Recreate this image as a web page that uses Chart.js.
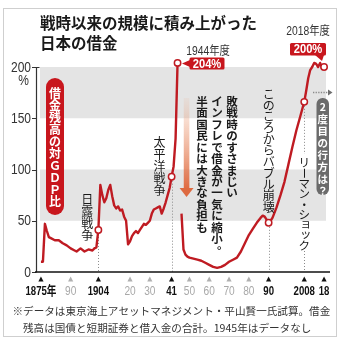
<!DOCTYPE html>
<html>
<head>
<meta charset="utf-8">
<script src="https://cdn.jsdelivr.net/npm/chart.js@4/dist/chart.umd.min.js"></script>
<style>
  html, body { margin: 0; padding: 0; background: #fff; }
  canvas { display: block; }
</style>
</head>
<body>
<canvas id="debtChart" width="344" height="341"></canvas>
<script>
// ================================================================
// Data
// ================================================================
const years = [1875, 1876, 1877, 1878, 1879, 1880, 1882, 1884, 1886, 1888, 1890, 1892, 1893, 1895, 1897, 1899, 1901, 1902, 1903,
  1904, 1905, 1906, 1907, 1908, 1909, 1910, 1911, 1912, 1913, 1914, 1915, 1916, 1917, 1918, 1919, 1920, 1921, 1922, 1923, 1924,
  1925, 1926, 1927, 1928, 1929, 1930, 1931, 1932, 1933, 1934, 1935, 1936, 1937, 1938, 1939, 1940, 1941, 1942, 1943, 1944, 1945,
  1946, 1947, 1948, 1949, 1950, 1952, 1954, 1956, 1958, 1960, 1962, 1964, 1966, 1968, 1970, 1972, 1974, 1976, 1978, 1980,
  1982, 1984, 1986, 1987, 1988, 1989, 1990, 1991, 1992, 1994, 1996, 1998, 2000, 2002, 2004, 2006, 2007, 2008, 2009, 2010,
  2011, 2012, 2013, 2014, 2015, 2016, 2017, 2018];
// debt / GDP in %, 1945 has no data
const debtRatio = [10, 10, 47, 40, 34, 33, 31, 31, 28, 26, 23, 21, 20, 23, 20, 22, 21, 23, 24,
  41, 85, 75, 68, 72, 80, 85, 74, 65, 62, 64, 60, 61, 54, 50, 27, 30, 35, 38, 40, 38,
  41, 44, 47, 46, 48, 50, 57, 61, 62, 63, 64, 57, 62, 68, 75, 82, 93, 103, 130, 204, null,
  57, 22, 17, 15, 14, 13, 12, 11, 9, 7, 5, 4, 5, 7, 10, 12, 14, 20, 28, 36,
  42, 48, 53, 55, 54, 51, 48, 50, 53, 63, 75, 88, 105, 122, 138, 152, 159, 166, 177, 189,
  197, 200, 204, 203, 200, 204, 199, 200];

const markerYears = [1904, 1941, 1944, 1990, 2008, 2018];
const guideYears = [1904, 1941, 1990, 2008];

const yTicks = [0, 50, 100, 150, 200];
const bandRanges = [[50, 100], [150, 200]];

const tickYears = [1875, 1890, 1904, 1920, 1930, 1941, 1950, 1960, 1970, 1980, 1990, 2008, 2018];
const tickLabels = ['1875年', '90', '1904', '20', '30', '41', '50', '60', '70', '80', '90', '2008', '18'];
const tickStrong = [true, false, true, false, false, true, false, false, false, false, true, true, true];

const titleLines = ['戦時以来の規模に積み上がった', '日本の借金'];
const noteLines = ['※データは東京海上アセットマネジメント・平山賢一氏試算。借金', '残高は国債と短期証券と借入金の合計。1945年はデータなし'];

const RED = '#bf1b22';
const JP = '"Noto Sans CJK JP", sans-serif';
const NUM = '"Liberation Sans", Arial, "Noto Sans CJK JP", sans-serif';

const valueAt = yr => debtRatio[years.indexOf(yr)];

// ================================================================
// Drawing helpers
// ================================================================
function text(ctx, s, x, y, font, color, align, sx) {
  ctx.save();
  ctx.font = font;
  ctx.fillStyle = color;
  ctx.textAlign = align || 'left';
  ctx.textBaseline = 'middle';
  ctx.translate(x, y);
  ctx.scale(sx || 1, 1);
  ctx.fillText(s, 0, 0);
  ctx.restore();
}

// vertical (tategaki) text, one glyph per step
function vtext(ctx, s, x, y0, step, size, weight, color) {
  const small = 'ッョャュァィゥェォっょゃゅ';
  ctx.save();
  ctx.font = weight + ' ' + size + 'px ' + JP;
  ctx.fillStyle = color;
  ctx.textAlign = 'center';
  ctx.textBaseline = 'middle';
  Array.from(s).forEach((c, i) => {
    const cy = y0 + i * step;
    if (c === 'ー') {
      ctx.save();
      ctx.translate(x, cy);
      ctx.rotate(Math.PI / 2);
      ctx.fillText(c, 0, 0);
      ctx.restore();
    } else if (c === '。') {
      ctx.fillText(c, x + size * 0.5, cy - size * 0.5);
    } else if (small.includes(c)) {
      ctx.fillText(c, x + size * 0.12, cy - size * 0.12);
    } else {
      ctx.fillText(c, x, cy);
    }
  });
  ctx.restore();
}

function roundRect(ctx, x, y, w, h, r, fill) {
  ctx.beginPath();
  ctx.roundRect(x, y, w, h, r);
  ctx.fillStyle = fill;
  ctx.fill();
}

// ================================================================
// Decoration plugin: bands, axes, notes, callouts
// ================================================================
const decor = {
  id: 'decor',
  beforeDatasetsDraw(chart) {
    const { ctx, scales: { x, y } } = chart;
    const y0 = y.getPixelForValue(0);
    const yTop = y.getPixelForValue(200);

    ctx.save();
    // frame
    ctx.strokeStyle = '#cfcfcf';
    ctx.lineWidth = 1;
    ctx.strokeRect(3.5, 8.5, 333, 328);

    // grey bands
    ctx.fillStyle = '#e4e4e4';
    bandRanges.forEach(([lo, hi]) => {
      const t = y.getPixelForValue(hi), b = y.getPixelForValue(lo);
      ctx.fillRect(40, t, 286, b - t);
    });

    // y axis
    ctx.strokeStyle = '#333';
    ctx.lineWidth = 1.2;
    ctx.beginPath();
    ctx.moveTo(36.5, yTop);
    ctx.lineTo(36.5, y0);
    yTicks.forEach(v => {
      const py = Math.round(y.getPixelForValue(v)) + 0.5;
      ctx.moveTo(32, py);
      ctx.lineTo(36.5, py);
    });
    ctx.moveTo(36.5, yTop + 0.5);
    ctx.lineTo(39.5, yTop + 0.5);
    ctx.stroke();

    // dotted guides from markers down to the axis
    ctx.strokeStyle = '#8a8a8a';
    ctx.lineWidth = 1;
    ctx.setLineDash([1, 2]);
    guideYears.forEach(yr => {
      const px = Math.round(x.getPixelForValue(yr)) + 0.5;
      const top = y.getPixelForValue(valueAt(yr)) + 4;
      ctx.beginPath();
      if (yr === 2008) {
        ctx.moveTo(px, top); ctx.lineTo(px, 154);
        ctx.moveTo(px, 248); ctx.lineTo(px, y0);
      } else {
        ctx.moveTo(px, top); ctx.lineTo(px, y0);
      }
      ctx.stroke();
    });
    ctx.setLineDash([]);

    // x axis
    ctx.strokeStyle = '#111';
    ctx.lineWidth = 1.5;
    ctx.beginPath();
    ctx.moveTo(35, y0);
    ctx.lineTo(330, y0);
    ctx.stroke();

    // orange "shrink" arrow
    const ax = x.getPixelForValue(1944) + 9;
    const g = ctx.createLinearGradient(0, 98, 0, 190);
    g.addColorStop(0, 'rgba(236,160,120,0.1)');
    g.addColorStop(1, 'rgba(224,104,62,1)');
    ctx.fillStyle = g;
    ctx.fillRect(ax - 2.8, 98, 5.6, 90);
    ctx.fillStyle = '#dd6a40';
    ctx.beginPath();
    ctx.moveTo(ax - 7, 188);
    ctx.lineTo(ax + 7, 188);
    ctx.lineTo(ax, 197);
    ctx.closePath();
    ctx.fill();
    ctx.restore();
  },

  afterDatasetsDraw(chart) {
    const { ctx, scales: { x, y } } = chart;
    const y0 = y.getPixelForValue(0);

    // title
    titleLines.forEach((s, i) => text(ctx, s, 40, 23 + i * 20, 'bold 15.5px ' + JP, '#1a1a1a', 'left'));

    // y labels
    yTicks.forEach(v => text(ctx, String(v), 31, y.getPixelForValue(v) + 0.5, '15px ' + NUM, '#333', 'right', 0.8));
    text(ctx, '%', 29, 81, '15px ' + NUM, '#333', 'right', 0.8);

    // x ticks
    tickYears.forEach((yr, i) => {
      const px = x.getPixelForValue(yr);
      const strong = tickStrong[i];
      ctx.fillStyle = strong ? '#111' : '#b0b0b0';
      ctx.beginPath();
      ctx.moveTo(px - 2.6, 281.5);
      ctx.lineTo(px + 2.6, 281.5);
      ctx.lineTo(px, 276.5);
      ctx.closePath();
      ctx.fill();
      text(ctx, tickLabels[i], px, 291.5, (strong ? 'bold ' : '') + '13px ' + NUM, strong ? '#111' : '#a8a8a8', 'center', strong ? 0.74 : 0.78);
    });

    // red pill label
    roundRect(ctx, 46, 78, 18, 137, 9, '#c8161d');
    vtext(ctx, '借金残高の対ＧＤＰ比', 55, 93, 12, 12, 'bold', '#fff');

    // event labels
    vtext(ctx, '日露戦争', x.getPixelForValue(1904) - 11, 199, 12.2, 12, 'normal', '#1a1a1a');
    vtext(ctx, '太平洋戦争', x.getPixelForValue(1941) - 12, 142, 12.1, 12, 'normal', '#1a1a1a');
    vtext(ctx, 'このころからバブル崩壊', x.getPixelForValue(1990), 94, 11.3, 12, 'normal', '#1a1a1a');
    vtext(ctx, 'リーマン・ショック', x.getPixelForValue(2008), 163, 10.3, 11.5, 'normal', '#1a1a1a');

    // postwar note, three columns right to left
    vtext(ctx, '敗戦時のすさまじい', 232, 101.5, 11.45, 11.5, 'bold', '#1a1a1a');
    vtext(ctx, 'インフレで借金が一気に縮小。', 217, 101.5, 11.45, 11.5, 'bold', '#1a1a1a');
    vtext(ctx, '半面国民には大きな負担も', 202, 101.5, 11.45, 11.5, 'bold', '#1a1a1a');

    // 1944 callout
    text(ctx, '1944年度', 208, 52, '12px ' + NUM, '#333', 'center', 0.86);
    roundRect(ctx, 189.5, 57.5, 35, 12, 1.5, '#c8161d');
    ctx.beginPath();
    ctx.moveTo(190, 60);
    ctx.lineTo(190, 67);
    ctx.lineTo(182, 63.5);
    ctx.closePath();
    ctx.fill();
    text(ctx, '204%', 207, 64, 'bold 13px ' + NUM, '#fff', 'center', 0.86);

    // 2018 callout
    text(ctx, '2018年度', 308, 32, '12px ' + NUM, '#333', 'center', 0.86);
    roundRect(ctx, 290, 43, 36, 12.5, 1.5, '#c8161d');
    ctx.beginPath();
    ctx.moveTo(315, 55);
    ctx.lineTo(324, 55);
    ctx.lineTo(322, 61);
    ctx.closePath();
    ctx.fill();
    text(ctx, '200%', 308, 49.5, 'bold 13px ' + NUM, '#fff', 'center', 0.86);

    // "what next?" pill and dotted arrow
    ctx.save();
    ctx.strokeStyle = '#8a8a8a';
    ctx.lineWidth = 1.3;
    ctx.setLineDash([1.3, 1.3]);
    ctx.beginPath();
    ctx.moveTo(313, 92.5);
    ctx.lineTo(328, 92.5);
    ctx.stroke();
    ctx.setLineDash([]);
    ctx.fillStyle = '#6f6f6f';
    ctx.beginPath();
    ctx.moveTo(328, 89.5);
    ctx.lineTo(332.5, 92.5);
    ctx.lineTo(328, 95.5);
    ctx.closePath();
    ctx.fill();
    ctx.restore();
    roundRect(ctx, 316.5, 98, 12.5, 97, 6, '#6b6b6b');
    vtext(ctx, '2度目の行方は？', 322.8, 107, 12, 10.5, 'bold', '#fff');

    // footnote
    text(ctx, noteLines[0], 12.5, 311, '10.6px ' + JP, '#333', 'left');
    text(ctx, noteLines[1], 23, 327.5, '10.6px ' + JP, '#333', 'left');
  }
};

// ================================================================
// Chart
// ================================================================
const points = years.map((yr, i) => ({ x: yr, y: debtRatio[i] }));
const markers = markerYears.map(yr => ({ x: yr, y: valueAt(yr) }));

new Chart(document.getElementById('debtChart'), {
  type: 'line',
  data: {
    datasets: [{
      data: markers,
      showLine: false,
      pointRadius: 3.2,
      pointBackgroundColor: '#fff',
      pointBorderColor: RED,
      pointBorderWidth: 1.5,
      clip: false
    }, {
      data: points,
      borderColor: RED,
      borderWidth: 2.4,
      pointRadius: 0,
      spanGaps: false,
      borderJoinStyle: 'round',
      tension: 0,
      clip: false
    }]
  },
  options: {
    responsive: false,
    devicePixelRatio: 1,
    animation: false,
    events: [],
    layout: { padding: { left: 36, right: 14, top: 67, bottom: 69 } },
    scales: {
      x: { type: 'linear', min: 1872.5, max: 2021, display: false },
      y: { min: 0, max: 200, display: false }
    },
    plugins: { legend: { display: false }, tooltip: { enabled: false } }
  },
  plugins: [decor]
});
</script>
</body>
</html>
